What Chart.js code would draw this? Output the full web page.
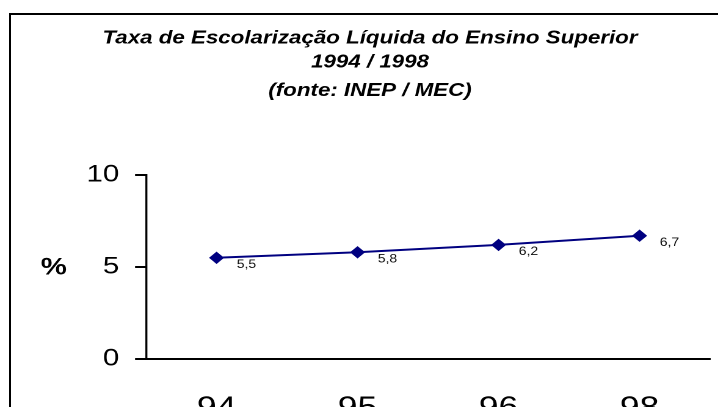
<!DOCTYPE html>
<html>
<head>
<meta charset="utf-8">
<script src="https://cdn.jsdelivr.net/npm/chart.js@4.4.1/dist/chart.umd.min.js"></script>
<style>
  html, body { margin: 0; padding: 0; background: #fff; overflow: hidden; }
  #page { position: relative; width: 718px; height: 407px; overflow: hidden; background: #fff; }
  #frame { position: absolute; left: 9px; top: 13px; width: 800px; height: 500px;
           border-left: 2px solid #000; border-top: 2px solid #000; }
  /* the original picture is stretched sideways, so draw narrow and widen */
  #wrap { position: absolute; left: 0; top: 0; width: 588px; height: 407px;
          transform: scaleX(1.2211); transform-origin: 0 0; }
</style>
</head>
<body>
<div id="page">
  <div id="frame"></div>
  <div id="wrap"><canvas id="chart"></canvas></div>
</div>
<script>
const years = ['94', '95', '96', '98'];
const taxa = [5.5, 5.8, 6.2, 6.7];
const yTicks = [0, 5, 10];
const titleLines = ['Taxa de Escolarização Líquida do Ensino Superior', '1994 / 1998'];
const sourceLine = '(fonte: INEP / MEC)';
const yUnit = '%';

const FONT = '"Liberation Sans", Arial, sans-serif';

// value labels next to the points, and the "%" beside the axis
const valueLabels = {
    id: 'valueLabels',
    afterDatasetsDraw(chart) {
        const ctx = chart.ctx;
        const meta = chart.getDatasetMeta(0);
        ctx.save();
        ctx.font = '11.5px ' + FONT;
        ctx.fillStyle = '#111';
        ctx.textAlign = 'center';
        ctx.textBaseline = 'middle';
        meta.data.forEach((pt, i) => {
            ctx.fillText(String(taxa[i]).replace('.', ','), pt.x + 24.5, pt.y + 7);
        });
        ctx.font = 'bold 24px ' + FONT;
        ctx.fillStyle = '#000';
        ctx.fillText(yUnit, 44, chart.scales.y.getPixelForValue(yTicks[1]) + 1);
        ctx.restore();
    }
};

const titleFont = { family: FONT, size: 18.3, weight: 'bold', style: 'italic', lineHeight: 24 / 18.3 };

new Chart(document.getElementById('chart'), {
    type: 'line',
    data: {
        labels: years,
        datasets: [{
            data: taxa,
            borderColor: '#000080',
            borderWidth: 2,
            pointStyle: 'rectRot',
            pointRadius: 5.5,
            pointBackgroundColor: '#000080',
            pointBorderColor: '#000080',
            pointBorderWidth: 1,
            tension: 0
        }]
    },
    options: {
        responsive: true,
        maintainAspectRatio: false,
        devicePixelRatio: 2,
        animation: false,
        layout: { padding: { left: 24.5, right: 6.5, top: 0, bottom: 0 } },
        plugins: {
            legend: { display: false },
            tooltip: { enabled: false },
            title: {
                display: true,
                text: titleLines,
                color: '#000',
                font: titleFont,
                padding: { top: 26.5, bottom: 0 }
            },
            subtitle: {
                display: true,
                text: sourceLine,
                color: '#000',
                font: titleFont,
                padding: { top: 4.5, bottom: 72 }
            }
        },
        scales: {
            x: {
                offset: true,
                grid: { display: false, drawTicks: false },
                border: { display: true, color: '#000', width: 2 },
                ticks: { color: '#000', font: { family: FONT, size: 29 }, padding: 32, maxRotation: 0 },
                afterFit(scale) { scale.height = 48; }
            },
            y: {
                min: 0,
                max: 10,
                afterBuildTicks(scale) { scale.ticks = yTicks.map(v => ({ value: v })); },
                grid: { drawOnChartArea: false, drawTicks: true, tickLength: 9, tickColor: '#000', tickWidth: 2, color: '#000' },
                border: { display: true, color: '#000', width: 1.7 },
                ticks: { color: '#000', font: { family: FONT, size: 24 }, padding: 13 },
                afterFit(scale) { scale.width = 95.1; }
            }
        }
    },
    plugins: [valueLabels]
});
</script>
</body>
</html>
